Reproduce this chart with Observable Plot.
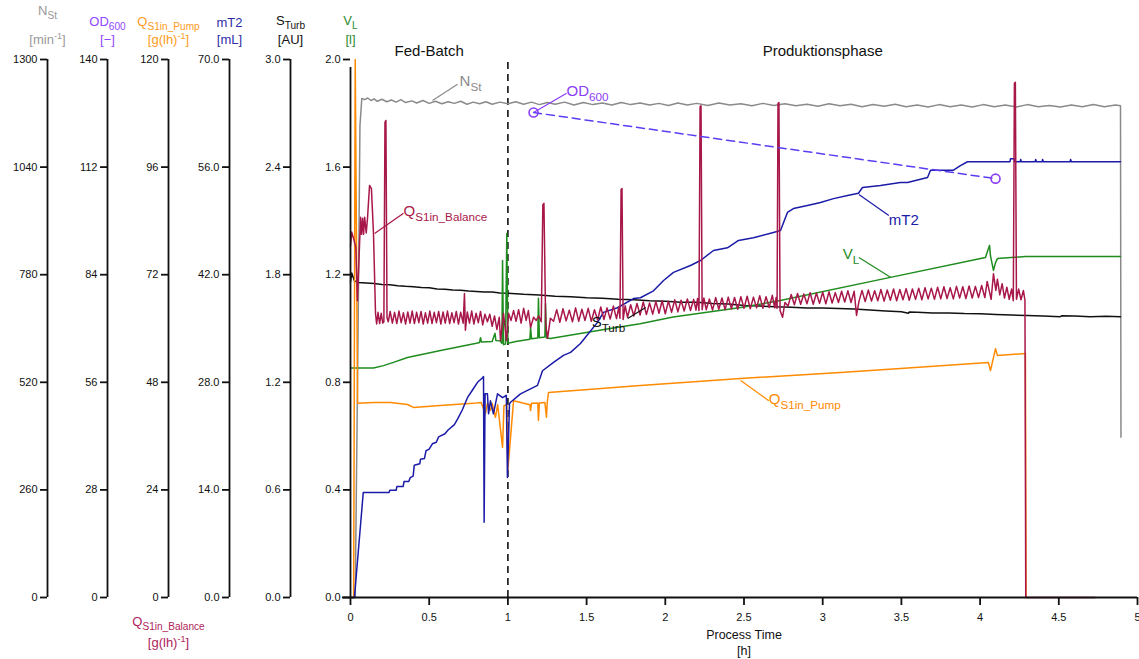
<!DOCTYPE html>
<html>
<head>
<meta charset="utf-8">
<script src="https://cdn.jsdelivr.net/npm/d3@7"></script>
<script src="https://cdn.jsdelivr.net/npm/@observablehq/plot@0.6"></script>
<style>
  body { margin: 0; background: #fff; }
  #chart svg { display: block; }
</style>
</head>
<body>
<div id="chart"></div>
<script>
// ---- Measured signals: [process time (h), value] ----

// Stirrer speed N_St (min^-1)
const stirrerSpeed = [
  [0,0],[0.03,0],[0.048,640],[0.06,1140],[0.072,1206],[0.09,1203],[0.11,1207],[0.13,1201],[0.15,1205],[0.17,1199],
  [0.2,1204],[0.23,1198],[0.26,1202],[0.29,1197],[0.32,1203],[0.35,1196],[0.39,1200],[0.42,1195],[0.46,1201],[0.5,1194],
  [0.54,1199],[0.58,1193],[0.62,1198],[0.66,1194],[0.7,1199],[0.74,1192],[0.78,1197],[0.82,1193],[0.86,1198],[0.9,1192],
  [0.95,1197],[1.0,1193],[1.05,1198],[1.1,1192],[1.15,1197],[1.2,1191],[1.25,1196],[1.3,1192],[1.36,1197],[1.42,1190],
  [1.48,1196],[1.54,1191],[1.6,1195],[1.66,1190],[1.72,1196],[1.78,1191],[1.84,1195],[1.9,1190],[1.96,1194],[2.02,1189],
  [2.08,1195],[2.14,1190],[2.2,1194],[2.27,1189],[2.34,1195],[2.41,1190],[2.48,1193],[2.55,1188],[2.62,1194],[2.69,1189],
  [2.76,1193],[2.83,1188],[2.9,1192],[2.97,1187],[3.04,1193],[3.11,1188],[3.18,1192],[3.25,1186],[3.32,1191],[3.39,1187],
  [3.46,1192],[3.53,1186],[3.6,1190],[3.67,1185],[3.74,1191],[3.81,1186],[3.88,1190],[3.95,1185],[4.02,1191],[4.09,1186],
  [4.16,1190],[4.23,1185],[4.3,1191],[4.37,1186],[4.44,1189],[4.51,1185],[4.58,1190],[4.65,1186],[4.72,1191],[4.79,1186],
  [4.86,1190],[4.892,1188],[4.895,387]
];

// Optical density OD_600 (samples)
const od600 = [[1.163,126.2],[4.098,109.0]];

// Substrate feed from pump speed Q_S1in_Pump (g/(l h))
const feedPump = [
  [0,0],[0.02,0],[0.03,120],[0.045,43.3],[0.146,43.5],[0.254,43.5],[0.362,43.05],[0.4,42.4],[0.57,42.8],[0.78,43.3],
  [0.83,43.5],[0.857,41.0],[0.87,43.3],[0.889,41.7],[0.9,43.3],[0.921,40.2],[0.935,43.0],[0.966,33.5],[0.975,42.8],
  [0.993,43.0],[1.0,28.5],[1.036,43.9],[1.14,43.0],[1.144,41.7],[1.15,43.3],[1.19,43.4],[1.194,39.5],[1.2,43.4],
  [1.235,43.5],[1.245,40.2],[1.25,43.5],[1.258,45.7],[1.842,47.3],[2.478,48.85],[3.113,50.2],[3.494,51.1],[4.053,52.4],
  [4.066,50.6],[4.098,55.5],[4.11,54.0],[4.288,54.4],[4.292,0]
];

// Substrate feed from balance Q_S1in_Balance (g/(l h))
const feedBalance = [
  [0,78.5],[0.008,81.5],[0.02,80.0],[0.034,78.1],[0.044,66.2],[0.064,84.8],[0.07,81.0],[0.077,84.6],[0.083,81.0],[0.09,84.8],
  [0.1,81.3],[0.108,84.6],[0.121,91.9],[0.133,91.2],[0.146,81.2],[0.159,63.3],[0.166,61.0],[0.175,63.6],[0.185,61.1],[0.195,63.4],
  [0.205,61.2],[0.212,61.5],[0.219,106.0],[0.225,106.4],[0.232,62.4],[0.24,61.5],[0.252,63.8],[0.266,61.2],[0.28,63.6],[0.294,61.1],[0.308,63.9],
  [0.322,61.3],[0.336,63.5],[0.35,61.0],[0.364,63.7],[0.378,61.2],[0.392,63.9],[0.406,61.1],[0.42,63.6],[0.434,61.3],[0.448,63.8],
  [0.462,61.0],[0.476,63.5],[0.49,61.2],[0.504,63.9],[0.518,61.1],[0.532,63.6],[0.546,61.3],[0.56,63.8],[0.574,61.0],[0.588,63.7],
  [0.602,61.2],[0.616,63.9],[0.63,61.1],[0.644,63.5],[0.658,61.3],[0.672,63.8],[0.686,61.0],[0.7,63.6],[0.716,61.2],[0.724,67.8],
  [0.73,59.6],[0.742,63.7],[0.756,61.2],[0.77,63.9],[0.784,61.0],[0.798,63.4],[0.812,61.3],[0.826,63.8],[0.84,60.8],[0.854,63.2],
  [0.87,61.5],[0.885,63.2],[0.9,60.5],[0.915,62.8],[0.93,59.8],[0.945,62.5],[0.953,57.3],[0.972,63.4],[0.991,57.3],[1.004,63.4],
  [1.02,61.8],[1.036,64.0],[1.052,61.6],[1.068,64.2],[1.084,61.2],[1.1,64.5],[1.116,61.8],[1.13,64.0],[1.144,60.2],[1.163,62.5],
  [1.18,61.8],[1.196,62.8],[1.212,61.5],[1.222,87.6],[1.229,87.9],[1.24,61.0],[1.252,57.8],[1.27,62.3],
  [1.29,61.6],[1.31,64.2],[1.33,61.4],[1.35,64.4],[1.37,61.7],[1.39,64.1],[1.41,61.5],[1.43,64.6],[1.45,61.6],[1.47,64.3],
  [1.49,61.8],[1.51,64.5],[1.53,61.6],[1.55,64.2],[1.57,61.9],[1.59,64.8],[1.61,62.0],[1.63,64.6],[1.65,62.1],[1.67,65.0],
  [1.69,62.2],[1.705,64.8],[1.712,62.3],[1.719,91.0],[1.725,91.2],[1.732,62.0],[1.745,65.1],[1.76,62.5],[1.78,65.3],[1.8,62.8],[1.82,65.6],
  [1.84,63.0],[1.86,65.9],[1.88,63.1],[1.9,65.7],[1.92,63.2],[1.94,66.0],[1.96,63.4],[1.98,66.2],[2.0,63.3],[2.02,66.1],
  [2.04,63.6],[2.06,66.4],[2.08,63.7],[2.1,66.3],[2.12,63.9],[2.14,66.6],[2.16,64.0],[2.18,66.5],[2.195,64.1],[2.205,66.7],
  [2.214,64.0],[2.221,109.5],[2.227,109.7],[2.234,64.2],[2.245,66.8],[2.26,64.2],[2.28,66.6],[2.3,64.1],[2.32,66.9],[2.34,64.3],[2.36,66.8],
  [2.38,64.2],[2.4,67.0],[2.42,64.4],[2.44,66.9],[2.46,64.3],[2.48,67.1],[2.5,64.5],[2.52,67.2],[2.54,64.4],[2.56,67.0],
  [2.58,64.6],[2.6,67.3],[2.62,64.5],[2.64,67.1],[2.66,64.7],[2.68,67.4],[2.695,64.6],[2.704,66.9],[2.71,64.5],[2.716,110.2],
  [2.722,110.4],[2.729,64.0],[2.745,62.5],[2.76,65.8],[2.78,65.0],[2.8,67.6],[2.82,65.3],[2.84,67.8],[2.86,65.4],[2.88,67.7],[2.9,65.5],
  [2.92,68.0],[2.94,65.4],[2.96,67.9],[2.98,65.6],[3.0,68.1],[3.02,65.5],[3.04,68.2],[3.06,65.7],[3.08,68.0],[3.1,65.8],
  [3.12,68.3],[3.14,65.9],[3.16,68.4],[3.18,65.8],[3.2,68.3],[3.215,62.9],[3.23,66.0],[3.25,68.5],[3.27,66.0],[3.29,68.6],
  [3.31,66.1],[3.33,68.4],[3.35,66.2],[3.37,68.7],[3.39,66.1],[3.41,68.6],[3.43,66.3],[3.45,68.8],[3.47,66.2],[3.49,68.7],
  [3.51,66.4],[3.53,68.9],[3.55,66.3],[3.57,68.8],[3.59,66.5],[3.61,69.0],[3.63,66.4],[3.65,69.1],[3.67,66.6],[3.69,69.0],
  [3.71,66.5],[3.73,69.2],[3.75,66.6],[3.77,69.3],[3.79,66.7],[3.81,69.1],[3.83,66.6],[3.85,69.4],[3.87,66.8],[3.89,69.3],
  [3.91,66.7],[3.93,69.5],[3.95,66.8],[3.97,69.4],[3.99,66.9],[4.01,69.6],[4.03,66.9],[4.045,70.5],[4.07,66.5],[4.085,72.2],
  [4.1,68.5],[4.11,71.0],[4.125,67.5],[4.14,70.0],[4.155,66.8],[4.17,69.2],[4.185,66.5],[4.2,68.8],[4.211,66.2],
  [4.218,114.7],[4.224,114.9],[4.231,66.5],[4.245,68.8],[4.26,66.4],[4.275,68.5],[4.285,66.3],[4.29,0],[4.73,0]
];

// Titrant mass mT2 (mL)
const titrant = [
  [0,0],[0.025,0],[0.081,13.66],[0.245,13.66],[0.25,13.95],[0.29,13.95],[0.295,14.45],[0.335,14.45],[0.34,15.1],[0.37,15.1],
  [0.38,15.6],[0.398,15.8],[0.405,17.2],[0.44,17.4],[0.445,18.0],[0.47,18.1],[0.48,19.1],[0.5,19.3],[0.52,20.0],[0.545,20.2],
  [0.56,20.9],[0.6,21.3],[0.62,21.8],[0.66,22.5],[0.68,23.2],[0.71,24.4],[0.743,26.0],[0.775,27.0],[0.807,28.0],[0.839,28.6],
  [0.845,28.75],[0.849,9.8],[0.855,26.5],[0.87,26.5],[0.877,23.9],[0.889,25.6],[0.908,23.9],[0.934,26.5],[0.966,26.0],[0.99,26.3],
  [0.997,15.6],[1.01,25.2],[1.017,25.4],[1.08,26.5],[1.188,27.6],[1.22,29.5],[1.29,30.6],[1.353,31.5],[1.398,31.9],[1.461,33.05],
  [1.512,34.35],[1.569,35.8],[1.607,37.1],[1.696,37.7],[1.798,38.9],[1.842,39.0],[1.925,39.9],[1.989,41.25],[2.052,42.3],[2.16,43.2],
  [2.224,43.85],[2.306,45.15],[2.395,45.5],[2.465,46.45],[2.56,46.8],[2.687,47.5],[2.732,47.75],[2.776,50.1],[2.814,50.6],[2.903,51.0],
  [2.986,51.4],[3.069,51.9],[3.158,52.3],[3.227,52.6],[3.253,53.35],[3.367,53.6],[3.494,54.0],[3.539,54.0],[3.666,54.65],[3.685,55.6],
  [3.831,55.6],[3.875,56.2],[3.92,56.7],[4.19,56.7],[4.193,57.1],[4.215,57.1],[4.22,56.7],[4.255,56.7],[4.258,57.0],[4.262,56.7],
  [4.35,56.7],[4.353,57.0],[4.358,56.7],[4.394,56.7],[4.397,57.0],[4.402,56.7],[4.572,56.7],[4.575,57.0],[4.58,56.7],[4.892,56.7]
];

// Turbidity S_Turb (AU)
const turbidity = [
  [0,1.76],[0.008,1.81],[0.025,1.765],[0.05,1.757],[0.1,1.754],[0.15,1.751],[0.2,1.746],[0.25,1.744],[0.3,1.739],[0.35,1.735],
  [0.4,1.733],[0.45,1.729],[0.5,1.727],[0.55,1.72],[0.6,1.719],[0.65,1.715],[0.7,1.713],[0.75,1.709],[0.8,1.707],[0.85,1.704],
  [0.9,1.703],[0.95,1.698],[1.0,1.697],[1.1,1.691],[1.2,1.687],[1.3,1.68],[1.4,1.677],[1.5,1.671],[1.6,1.668],[1.7,1.663],
  [1.8,1.66],[1.9,1.655],[2.0,1.652],[2.1,1.647],[2.2,1.646],[2.3,1.64],[2.4,1.636],[2.5,1.628],[2.6,1.625],[2.7,1.621],
  [2.8,1.619],[2.9,1.615],[3.0,1.614],[3.1,1.611],[3.2,1.609],[3.3,1.603],[3.4,1.598],[3.5,1.593],[3.545,1.585],[3.55,1.592],
  [3.6,1.59],[3.7,1.587],[3.8,1.586],[3.9,1.583],[4.0,1.582],[4.1,1.578],[4.2,1.575],[4.3,1.572],[4.4,1.57],[4.51,1.566],
  [4.52,1.571],[4.6,1.57],[4.7,1.566],[4.8,1.568],[4.892,1.566]
];

// Liquid volume V_L (l)
const volume = [
  [0,0.853],[0.146,0.853],[0.21,0.862],[0.273,0.874],[0.362,0.892],[0.572,0.918],[0.8,0.945],[0.82,0.948],[0.826,0.966],[0.832,0.95],
  [0.9,0.952],[0.918,0.982],[0.924,0.955],[0.95,0.954],[0.962,0.945],[0.966,1.253],[0.972,0.94],[0.985,0.942],[0.993,1.353],[1.0,0.945],
  [1.05,0.952],[1.14,0.96],[1.144,1.004],[1.15,0.962],[1.19,0.965],[1.194,1.112],[1.2,0.966],[1.235,0.968],[1.239,1.093],[1.245,0.965],
  [1.27,0.963],[1.63,0.998],[1.84,1.018],[2.05,1.043],[2.48,1.078],[2.73,1.104],[3.43,1.19],[4.034,1.264],[4.06,1.309],[4.066,1.27],
  [4.085,1.216],[4.098,1.245],[4.11,1.26],[4.288,1.268],[4.892,1.268]
];

// Phases and time axis
const phases = [{t: 0.5, name: "Fed-Batch"}, {t: 3.0, name: "Produktionsphase"}];
const phaseChange = [1.0];
const timeTicks = [0, 0.5, 1, 1.5, 2, 2.5, 3, 3.5, 4, 4.5, 5];

// Upper limits of the six stacked value axes (all start at 0)
const rangeNSt = 1300, rangeOD = 140, rangeQ = 120, rangeMT2 = 70, rangeSTurb = 3, rangeVL = 2;
const axisFractions = [0, 0.2, 0.4, 0.6, 0.8, 1];
const axisTitles = ["N_{St}", "OD_{600}", "Q_{S1in_Pump}", "mT2", "S_{Turb}", "V_{L}"];
const axisUnits = ["[min^{-1}]", "[\u2212]", "[g(lh)^{-1}]", "[mL]", "[AU]", "[l]"];

// Series labels (value in the series' own unit) and their leader lines
const seriesLabels = [
  {key: "N", text: "N_{St}", t: 0.693, value: 1237},
  {key: "OD", text: "OD_{600}", t: 1.373, value: 130.6},
  {key: "QB", text: "Q_{S1in_Balance}", t: 0.337, value: 85.2},
  {key: "S", text: "S_{Turb}", t: 1.532, value: 1.511},
  {key: "M", text: "mT2", t: 3.42, value: 48.53},
  {key: "V", text: "V_{L}", t: 3.128, value: 1.257},
  {key: "QP", text: "Q_{S1in_Pump}", t: 2.657, value: 43.05}
];
const leaders = [
  {key: "N", t1: 0.521, v1: 1201, t2: 0.68, v2: 1240},
  {key: "OD", t1: 1.163, v1: 126.2, t2: 1.373, v2: 131.2},
  {key: "QB", t1: 0.153, v1: 81.2, t2: 0.337, v2: 85.7},
  {key: "S", t1: 1.761, v1: 1.556, t2: 1.875, v2: 1.617},
  {key: "M", t1: 3.23, v1: 52.43, t2: 3.42, v2: 49.7},
  {key: "V", t1: 3.433, v1: 1.19, t2: 3.23, v2: 1.264},
  {key: "QP", t1: 2.479, v1: 48.4, t2: 2.657, v2: 43.9}
];

// ---- Styling ----
const range = {N: rangeNSt, OD: rangeOD, QB: rangeQ, QP: rangeQ, M: rangeMT2, S: rangeSTurb, V: rangeVL};
const color = {N: "#8a8a8a", OD: "#8a3cf6", QB: "#a8174a", QP: "#ff8a00", M: "#1b1ba8", S: "#111111", V: "#1e8c1e"};
const titleColors = ["#999999", "#9146ff", "#ff9a1a", "#2e2ea8", "#111111", "#2d8b2d"];
const axisRanges = [rangeNSt, rangeOD, rangeQ, rangeMT2, rangeSTurb, rangeVL];
const axisFormats = ["d", "d", "d", ".1f", ".1f", ".1f"];
const axisDx = [-303, -243, -182, -121, -60, 0];
const titleDy = [-45, -34, -34, -33, -35, -35];
const font = "'Liberation Sans', Arial, Helvetica, sans-serif";

const frac = (r) => (d) => d[1] / r;
const line = (data, r, stroke) => Plot.line(data, {x: d => d[0], y: frac(r), stroke, strokeWidth: 1.5});

const axisMarks = axisRanges.flatMap((r, i) => [
  Plot.ruleX([0], {y1: 0, y2: 1, dx: axisDx[i], strokeWidth: 1.8, insetBottom: i === 5 ? -8 : 0}),
  Plot.axisY(axisFractions, {
    anchor: "left", dx: axisDx[i], tickSize: 7, tickPadding: 3, strokeWidth: 1.8,
    tickFormat: d => d3.format(axisFormats[i])(d * r), label: null, fontSize: 11
  }),
  Plot.text([axisTitles[i]], {text: d => d, frameAnchor: "top-left", textAnchor: "middle", lineAnchor: "bottom",
    dx: axisDx[i], dy: titleDy[i], fill: titleColors[i], fontSize: 13}),
  Plot.text([axisUnits[i]], {text: d => d, frameAnchor: "top-left", textAnchor: "middle", lineAnchor: "bottom",
    dx: axisDx[i], dy: -16, fill: titleColors[i], fontSize: 13})
]);

const labelMarks = seriesLabels.map(l => Plot.text([l], {
  x: "t", y: d => d.value / range[d.key], text: "text", fill: color[l.key],
  textAnchor: "start", lineAnchor: "bottom", fontSize: 15
}));
const leaderMarks = leaders.map(l => Plot.link([l], {
  x1: "t1", y1: d => d.v1 / range[d.key], x2: "t2", y2: d => d.v2 / range[d.key],
  stroke: color[l.key], strokeWidth: 1.2
}));

const chart = Plot.plot({
  width: 1139,
  height: 659,
  marginLeft: 350,
  marginRight: 2,
  marginTop: 59,
  marginBottom: 62,
  style: {fontFamily: font, fontSize: "11px", background: "#ffffff", color: "#111"},
  x: {domain: [0, 5], axis: null},
  y: {domain: [0, 1], axis: null},
  marks: [
    // phase separator and phase names
    Plot.ruleX(phaseChange, {stroke: "#111", strokeWidth: 1.6, strokeDasharray: "7,5", insetTop: 3}),
    Plot.text(phases, {x: "t", text: "name", frameAnchor: "top", lineAnchor: "bottom", dy: -4, fontSize: 15, fill: "#111"}),

    // signals
    line(stirrerSpeed, rangeNSt, color.N),
    line(turbidity, rangeSTurb, color.S),
    line(volume, rangeVL, color.V),
    line(feedPump, rangeQ, color.QP),
    line(titrant, rangeMT2, color.M),
    line(feedBalance, rangeQ, color.QB),
    Plot.line(od600, {x: d => d[0], y: frac(rangeOD), stroke: "#5b3df2", strokeWidth: 1.5, strokeDasharray: "8,5"}),
    Plot.dot(od600, {x: d => d[0], y: frac(rangeOD), r: 4.5, stroke: color.OD, strokeWidth: 1.6, fill: "none"}),

    ...leaderMarks,
    ...labelMarks,

    // value axes
    ...axisMarks,
    Plot.text(["Q_{S1in_Balance}"], {text: d => d, frameAnchor: "bottom-left", textAnchor: "middle", lineAnchor: "bottom",
      dx: axisDx[2], dy: 28, fill: "#b0245a", fontSize: 13}),
    Plot.text(["[g(lh)^{-1}]"], {text: d => d, frameAnchor: "bottom-left", textAnchor: "middle", lineAnchor: "bottom",
      dx: axisDx[2], dy: 49, fill: "#b0245a", fontSize: 13}),

    // time axis
    Plot.ruleY([0], {x1: 0, x2: 5, strokeWidth: 1.8, insetLeft: -8}),
    Plot.axisX(timeTicks, {anchor: "bottom", tickSize: 8, tickPadding: 8, strokeWidth: 1.8, tickFormat: d => String(d), label: null, fontSize: 11}),
    Plot.text(["Process Time"], {text: d => d, frameAnchor: "bottom", lineAnchor: "bottom", dy: 41, fontSize: 12.5, fill: "#111"}),
    Plot.text(["[h]"], {text: d => d, frameAnchor: "bottom", lineAnchor: "bottom", dy: 57, fontSize: 12.5, fill: "#111"})
  ]
});

document.getElementById("chart").appendChild(chart);

// Turn "_{...}" and "^{...}" into sub- and superscript tspans
d3.select(chart).selectAll("text").each(function () {
  const s = this.textContent;
  if (!/[_^]\{/.test(s)) return;
  const size = parseFloat(getComputedStyle(this).fontSize) || 12;
  const parts = s.split(/([_^]\{[^}]*\})/).filter(p => p.length);
  this.textContent = "";
  let shift = 0;
  for (const p of parts) {
    const ts = document.createElementNS("http://www.w3.org/2000/svg", "tspan");
    let target = 0, txt = p;
    if (p.startsWith("_{")) {
      target = Math.round(size * 0.33); txt = p.slice(2, -1);
      ts.setAttribute("font-size", (size * 0.78).toFixed(1));
    } else if (p.startsWith("^{")) {
      target = -Math.round(size * 0.42); txt = p.slice(2, -1);
      ts.setAttribute("font-size", (size * 0.7).toFixed(1));
    }
    if (target !== shift) ts.setAttribute("dy", target - shift);
    shift = target;
    ts.textContent = txt;
    this.appendChild(ts);
  }
});
</script>
</body>
</html>
